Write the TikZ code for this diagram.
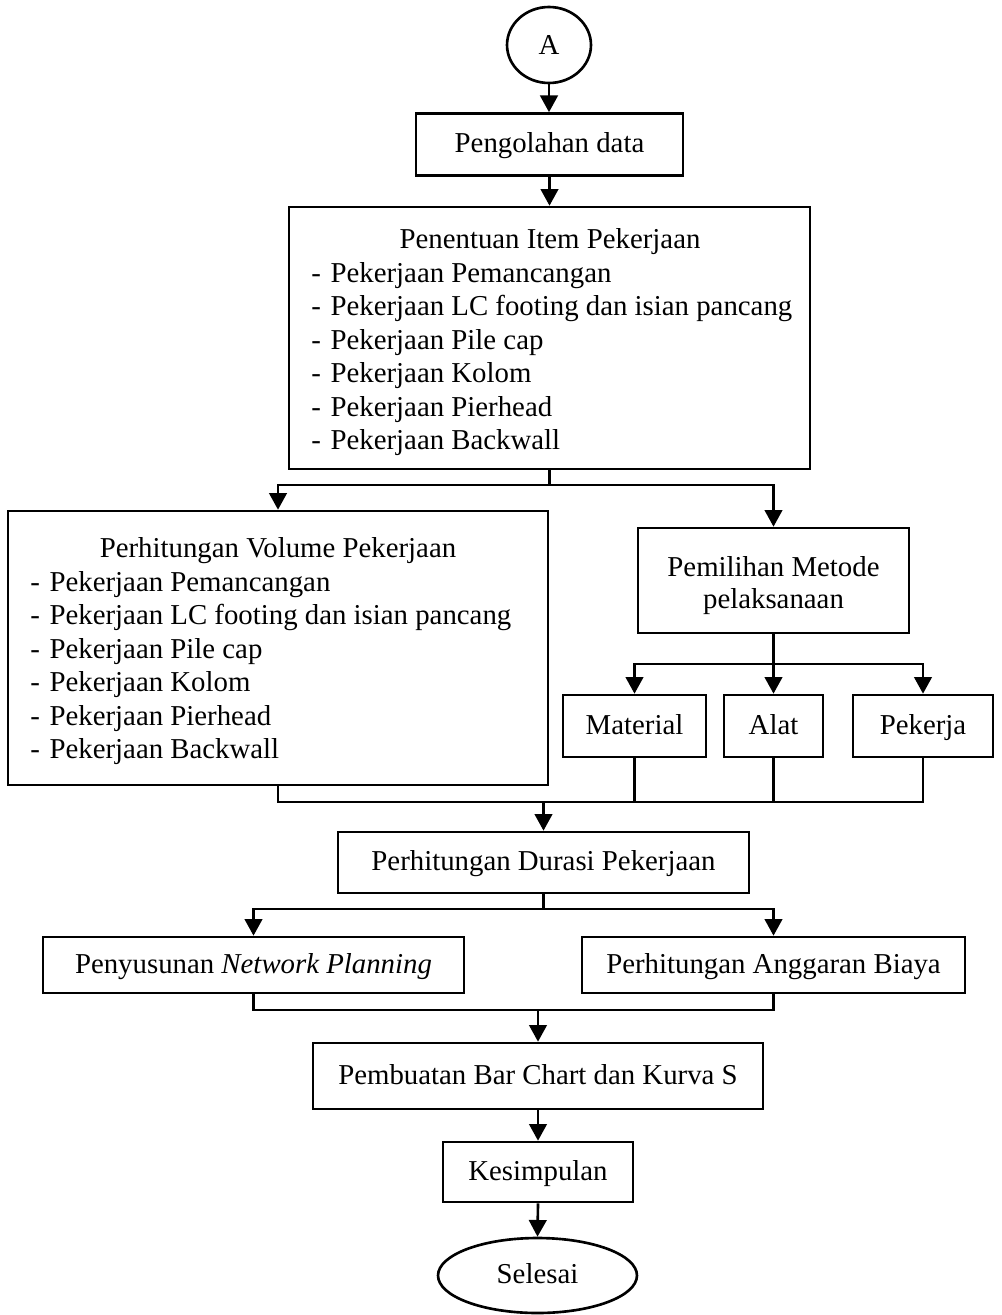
\documentclass[tikz,border=0pt]{standalone}
\usepackage{fontspec}
\setmainfont{Liberation Serif}
\usetikzlibrary{arrows.meta,shapes.geometric}
\begin{document}
\begin{tikzpicture}[x=0.02cm,y=-0.02cm,
  every node/.style={font=\fontsize{16.4}{19}\selectfont},
  box/.style={draw,line width=1.5pt,rectangle,inner sep=0pt,align=center},
  one/.style={text height=1.15em,text depth=0.2em},
  plain/.style={inner sep=0pt},
  listtext/.style={inner sep=0pt,align=left,anchor=west,font=\fontsize{16.4}{19}\selectfont},
  oval/.style={draw,line width=1.5pt,ellipse,inner sep=0pt},
  link/.style={line width=1.5pt},
  arr/.style={line width=1.5pt,-{Triangle[length=9.5pt,width=10pt]}}]
\useasboundingbox (0,0) rectangle (1001,1315);

% start and first steps
\node[oval,minimum width=1.68cm,minimum height=1.52cm] (A) at (549,45) {\raisebox{-2pt}{A}};
\node[box,one,minimum width=5.34cm,minimum height=1.24cm] (peng) at (549.5,144.5) {Pengolahan data};

% work items
\node[box,minimum width=10.42cm,minimum height=5.24cm] (pen) at (549.5,338) {};
\node[plain] (penhead) at (550,242) {Penentuan Item Pekerjaan};
\node[listtext] (penlist) at (311,359)
  {-\hspace{5.5pt}Pekerjaan Pemancangan\\
   -\hspace{5.5pt}Pekerjaan LC footing dan isian pancang\\
   -\hspace{5.5pt}Pekerjaan Pile cap\\
   -\hspace{5.5pt}Pekerjaan Kolom\\
   -\hspace{5.5pt}Pekerjaan Pierhead\\
   -\hspace{5.5pt}Pekerjaan Backwall};

% volume of work
\node[box,minimum width=10.8cm,minimum height=5.48cm] (vol) at (278,648) {};
\node[plain] (volhead) at (278,551) {Perhitungan Volume Pekerjaan};
\node[listtext] (vollist) at (30,668)
  {-\hspace{5.5pt}Pekerjaan Pemancangan\\
   -\hspace{5.5pt}Pekerjaan LC footing dan isian pancang\\
   -\hspace{5.5pt}Pekerjaan Pile cap\\
   -\hspace{5.5pt}Pekerjaan Kolom\\
   -\hspace{5.5pt}Pekerjaan Pierhead\\
   -\hspace{5.5pt}Pekerjaan Backwall};

% method and resources
\node[box,minimum width=5.42cm,minimum height=2.1cm] (pem) at (773.5,580.5) {};
\node[plain,align=center,font=\fontsize{16.4}{17.8}\selectfont] (pemtext) at (773.5,585.5)
  {Pemilihan Metode\\pelaksanaan};
\node[box,one,minimum width=2.86cm,minimum height=1.24cm] (mat) at (634.5,726) {Material};
\node[box,one,minimum width=1.98cm,minimum height=1.24cm] (alat) at (773.5,726) {Alat};
\node[box,one,minimum width=2.8cm,minimum height=1.24cm] (pkj) at (923,726) {Pekerja};

% scheduling and cost
\node[box,one,minimum width=8.22cm,minimum height=1.22cm] (dur) at (543.5,862.5) {Perhitungan Durasi Pekerjaan};
\node[box,one,minimum width=8.42cm,minimum height=1.12cm] (net) at (253.5,965) {Penyusunan \textit{Network Planning}};
\node[box,one,minimum width=7.66cm,minimum height=1.12cm] (ang) at (773.5,965) {Perhitungan Anggaran Biaya};
\node[box,one,minimum width=9.0cm,minimum height=1.32cm] (bar) at (538,1076) {Pembuatan Bar Chart dan Kurva S};
\node[box,one,minimum width=3.8cm,minimum height=1.2cm] (kes) at (538,1172) {Kesimpulan};
\node[oval,one,minimum width=3.98cm,minimum height=1.5cm] (sel) at (537.5,1275.5) {Selesai};

% junction points
\coordinate (j1) at (549.5,485);
\coordinate (j2) at (773.5,664);
\coordinate (j3) at (543.5,802);
\coordinate (j4) at (543.5,909);
\coordinate (j5) at (538,1010);

% connectors
\draw[arr] (A.south) -- (A.south |- peng.north);
\draw[arr] (peng.south) -- (pen.north);
\draw[link] (pen.south) -- (j1);
\draw[arr] (j1) -| (vol.north);
\draw[arr] (j1) -| (pem.north);
\draw[link] (pem.south) -- (j2);
\draw[arr] (j2) -| (mat.north);
\draw[arr] (j2) -- (alat.north);
\draw[arr] (j2) -| (pkj.north);
\draw[link] (vol.south) |- (j3) -| (pkj.south);
\draw[link] (mat.south) -- (mat.south |- j3);
\draw[link] (alat.south) -- (alat.south |- j3);
\draw[arr] (j3) -- (dur.north);
\draw[link] (dur.south) -- (j4);
\draw[arr] (j4) -| (net.north);
\draw[arr] (j4) -| (ang.north);
\draw[link] (net.south) |- (j5) -| (ang.south);
\draw[arr] (j5) -- (bar.north);
\draw[arr] (bar.south) -- (kes.north);
\draw[arr] (kes.south) -- (sel.north);
\end{tikzpicture}
\end{document}
